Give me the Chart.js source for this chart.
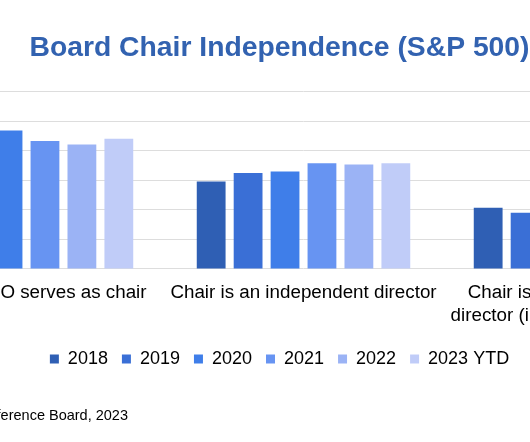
<!DOCTYPE html>
<html>
<head>
<meta charset="utf-8">
<script src="https://cdn.jsdelivr.net/npm/chart.js@4.4.1/dist/chart.umd.min.js"></script>
<style>
  html, body { margin: 0; padding: 0; width: 530px; height: 442px; overflow: hidden; background: #fff; }
  /* the reference is a crop of a wider chart, so the canvas hangs off both edges */
  #wrap { position: absolute; left: -160px; top: 0; width: 888px; height: 442px; }
  #source { position: absolute; right: 402px; top: 407px; font: 14.5px "Liberation Sans", Arial, sans-serif; color: #000; white-space: nowrap; }
</style>
</head>
<body>
<div id="wrap"><canvas id="chart"></canvas></div>
<div id="source">Source: The Conference Board, 2023</div>
<script>
const categories = [
    "Current CEO serves as chair",
    "Chair is an independent director",
    ["Chair is a non-independent", "director (including former CEO)"]
];
const years = ["2018", "2019", "2020", "2021", "2022", "2023 YTD"];
// share of companies (%), one value per year
const ceoIsChair = [49.7, 48.5, 46.9, 43.4, 42.2, 44.1];
const independentChair = [29.6, 32.5, 33.0, 35.8, 35.4, 35.8];
const nonIndependentChair = [20.7, 19.0, 20.1, 20.8, 22.4, 20.1];
const yTicks = [0, 10, 20, 30, 40, 50, 60];

const yearColors = ["#2f5fb4", "#3a6fd6", "#3f7ee9", "#6794f2", "#9bb3f5", "#c0ccf8"];

const datasets = years.map((year, i) => ({
    label: year,
    data: [ceoIsChair[i], independentChair[i], nonIndependentChair[i]],
    backgroundColor: yearColors[i],
    categoryPercentage: 0.8,
    barPercentage: 0.78
}));

new Chart(document.getElementById('chart'), {
    type: 'bar',
    data: {
        labels: categories,
        datasets: datasets
    },
    options: {
        responsive: true,
        maintainAspectRatio: false,
        animation: false,
        layout: {
            padding: { left: 0, right: 9, top: 0, bottom: 64 }
        },
        plugins: {
            title: {
                display: true,
                text: "Board Chair Independence (S&P 500)",
                color: "#3262b0",
                font: { family: "Liberation Sans", size: 28.3, weight: 'bold' },
                padding: { top: 31, bottom: 27 }
            },
            legend: {
                position: 'bottom',
                labels: {
                    color: "#000",
                    font: { family: "Liberation Sans", size: 18 },
                    boxWidth: 9,
                    boxHeight: 9,
                    padding: 14
                }
            },
            tooltip: { enabled: false }
        },
        scales: {
            x: {
                afterFit: (scale) => { scale.height -= 4; },
                grid: { display: false, drawTicks: false },
                border: { display: false },
                ticks: {
                    color: "#000",
                    font: { family: "Liberation Sans", size: 18.8 },
                    maxRotation: 0,
                    autoSkip: false,
                    padding: 13
                }
            },
            y: {
                min: yTicks[0],
                max: yTicks[yTicks.length - 1],
                afterFit: (scale) => { scale.width = 48; },
                afterBuildTicks: (scale) => { scale.ticks = yTicks.map(v => ({ value: v })); },
                grid: { color: "#dddddd", lineWidth: 1, drawTicks: false },
                border: { display: false },
                ticks: {
                    color: "#000",
                    font: { family: "Liberation Sans", size: 14 },
                    padding: 6,
                    callback: (v) => v + "%"
                }
            }
        }
    }
});
</script>
</body>
</html>
